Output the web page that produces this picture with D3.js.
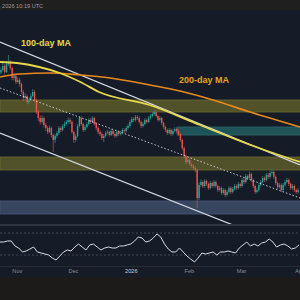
<!DOCTYPE html>
<html>
<head>
<meta charset="utf-8">
<script src="https://cdn.jsdelivr.net/npm/d3@7"></script>
<style>
  html, body { margin: 0; padding: 0; background: #161c27; overflow: hidden; }
</style>
</head>
<body>
<div id="chart"></div>
<script>

// daily candles from 23 Oct 2025, prices in thousands
var first_day = Date.UTC(2025, 9, 23)
var last_day = Date.UTC(2026, 3, 1, 12)
var first_open = 113.0

var closes = [
  114.0, 115.6, 113.2, 116.4, 117.2, 114.8, 110.8, 111.6, 109.2, 110.0,
  108.4, 105.2, 102.8, 103.6, 101.2, 102.0, 103.6, 105.2, 102.0, 97.2,
  94.8, 93.2, 94.8, 92.0, 90.8, 89.2, 90.8, 88.0, 86.0, 87.6,
  88.8, 90.8, 90.0, 91.6, 92.4, 93.2, 94.0, 93.2, 89.2, 86.0,
  87.6, 91.6, 94.8, 92.4, 90.0, 91.2, 92.4, 94.0, 93.2, 94.8,
  92.4, 90.8, 89.2, 88.4, 86.8, 87.6, 88.8, 89.2, 88.0, 89.6,
  88.4, 87.6, 89.2, 88.4, 88.8, 90.0, 89.6, 90.8, 91.6, 93.2,
  94.4, 94.0, 95.2, 94.8, 93.2, 91.6, 92.4, 94.0, 93.2, 94.8,
  95.6, 96.4, 97.2, 95.6, 94.0, 94.8, 92.8, 91.2, 90.0, 88.8,
  90.0, 88.4, 89.6, 90.4, 89.6, 88.4, 86.0, 82.8, 79.6, 77.2,
  78.0, 76.4, 75.6, 74.8, 74.0, 62.8, 68.0, 69.2, 67.6, 69.6,
  68.4, 66.8, 68.8, 67.6, 69.2, 67.6, 66.0, 66.8, 64.8, 66.0,
  64.0, 65.2, 66.8, 65.2, 66.4, 67.6, 66.8, 68.4, 67.6, 70.0,
  69.2, 71.6, 70.8, 72.4, 70.0, 67.6, 65.2, 66.0, 68.0, 69.2,
  70.8, 70.0, 72.0, 71.2, 72.8, 73.2, 71.2, 68.8, 67.2, 68.0,
  66.0, 68.0, 69.2, 70.0, 68.4, 66.8, 67.6, 66.0, 65.2, 66.0
]

var highs = [
  115.0, 116.8, 116.4, 117.6, 120.0, 118.0, 115.4, 112.8, 112.2, 111.2,
  110.8, 109.0, 106.0, 104.8, 104.2, 103.0, 104.6, 106.4, 106.0, 102.6,
  98.0, 95.8, 96.0, 95.4, 92.8, 91.6, 91.8, 91.4, 88.6, 88.4,
  89.6, 91.6, 91.4, 92.4, 93.4, 94.0, 95.0, 94.8, 93.8, 89.8,
  88.4, 92.4, 95.6, 95.4, 93.0, 92.0, 93.2, 94.8, 94.8, 95.6,
  95.2, 93.0, 91.4, 90.0, 89.0, 88.4, 89.6, 90.0, 89.8, 90.4,
  90.2, 89.0, 90.0, 89.8, 89.6, 90.8, 90.6, 91.6, 92.4, 94.0,
  95.2, 95.0, 96.0, 96.0, 95.4, 93.8, 93.2, 94.8, 94.6, 95.6,
  96.4, 97.2, 98.0, 97.8, 96.2, 95.6, 95.2, 93.4, 91.8, 90.6,
  90.8, 90.6, 90.4, 91.2, 91.0, 90.2, 89.0, 86.6, 83.4, 80.2,
  79.0, 78.6, 77.0, 76.2, 75.6, 74.4, 69.0, 70.2, 69.8, 70.4,
  70.2, 69.0, 69.6, 69.4, 70.0, 69.8, 68.2, 67.6, 67.4, 66.8,
  66.6, 66.0, 67.6, 67.4, 67.2, 68.4, 68.2, 69.2, 69.0, 70.8,
  70.8, 72.4, 72.2, 73.4, 73.0, 70.6, 68.2, 66.8, 68.8, 70.0,
  71.6, 71.4, 72.8, 72.8, 73.6, 74.2, 73.8, 71.8, 69.4, 68.8,
  68.6, 68.8, 70.0, 70.8, 70.6, 69.0, 68.4, 68.2, 66.6, 66.8
]

var lows = [
  112.2, 113.4, 112.4, 112.8, 115.6, 114.0, 110.0, 109.8, 108.4, 108.6,
  107.4, 104.4, 101.6, 102.0, 100.2, 100.4, 101.4, 103.0, 101.2, 96.4,
  93.6, 92.2, 92.6, 91.0, 89.6, 88.4, 88.6, 87.0, 81.2, 84.8,
  86.8, 88.0, 89.2, 89.4, 90.8, 91.8, 92.6, 92.4, 88.4, 84.8,
  85.2, 87.0, 91.0, 91.8, 89.2, 89.4, 90.6, 91.8, 92.4, 92.8,
  91.8, 90.0, 88.4, 87.6, 86.0, 85.2, 87.0, 88.2, 87.4, 87.6,
  87.8, 86.8, 87.0, 87.6, 87.8, 88.2, 88.8, 89.0, 90.2, 91.0,
  92.6, 93.2, 93.4, 94.0, 92.6, 90.8, 91.0, 91.8, 92.6, 92.8,
  94.2, 95.0, 95.8, 95.0, 93.4, 93.4, 92.0, 90.4, 89.2, 88.0,
  88.2, 87.6, 87.8, 89.0, 88.8, 87.6, 85.2, 82.0, 78.8, 76.2,
  76.6, 75.6, 74.8, 74.0, 73.0, 58.8, 62.0, 67.2, 66.8, 67.0,
  67.6, 66.0, 66.2, 66.8, 67.0, 66.8, 65.2, 65.4, 64.0, 64.2,
  63.2, 63.4, 64.6, 64.4, 64.6, 65.8, 66.0, 66.2, 66.8, 67.0,
  68.4, 68.6, 70.0, 70.2, 69.2, 66.8, 64.4, 64.6, 65.4, 67.4,
  68.6, 69.2, 69.4, 70.4, 70.6, 72.2, 70.4, 68.0, 66.4, 66.6,
  65.2, 65.4, 67.4, 68.6, 67.6, 66.0, 66.2, 65.2, 64.4, 64.6
]

// moving averages, read at a few days
var ma100_days = [0, 9, 21, 32, 43, 53, 80, 107, 134, 160.5]
var ma100 = [117.2, 116.8, 115.2, 112.8, 109.2, 105.2, 100.0, 92.0, 84.0, 77.2]
var ma200_days = [0, 10.7, 26.8, 42.8, 58.9, 80.3, 96.3, 114, 133.8, 160.5]
var ma200 = [111.2, 112.4, 112.8, 112.0, 110.8, 108.0, 105.6, 102.0, 97.2, 91.2]

// trend lines: [day, price] end points
var trend_upper = [[0, 125.2], [160.5, 76.0]]
var trend_middle = [[0, 106.8], [160.5, 62.8]]
var trend_lower = [[0, 88.8], [160.5, 41.4]]

// zones: price range and first day
var zone_names = ['supply', 'resist', 'mid', 'demand']
var zone_lo = [97.2, 88.0, 74.0, 56.4]
var zone_hi = [102.0, 91.2, 79.2, 61.6]
var zone_from = [0, 94.7, 0, 0]

// rsi, one reading every two days
var rsi_step = 2
var rsi = [
  53.6, 53.6, 55.5, 55.5, 46.4, 42.7, 35.5, 37.3, 40.9, 44.5,
  35.5, 33.6, 31.8, 30.0, 24.5, 20.9, 28.2, 35.5, 39.1, 37.3,
  44.5, 50.0, 44.5, 39.1, 48.2, 50.0, 44.5, 39.1, 42.7, 44.5,
  42.7, 42.7, 46.4, 46.4, 48.2, 50.0, 55.5, 62.7, 60.9, 53.6,
  55.5, 60.9, 68.2, 62.7, 50.0, 40.9, 35.5, 35.5, 42.7, 35.5,
  28.2, 22.7, 17.3, 24.5, 33.6, 31.8, 33.6, 35.5, 30.0, 35.5,
  35.5, 37.3, 35.5, 33.6, 42.7, 48.2, 53.6, 46.4, 50.0, 46.4,
  51.8, 53.6, 59.1, 53.6, 44.5, 48.2, 50.0, 46.4, 40.9, 42.7,
  48.2
]
var rsi_levels = [70, 30]

var zone_style = {
  supply: { fill: '#51512a', stroke: '#6a6934' },
  resist: { fill: '#1e5457', stroke: '#28686a' },
  mid: { fill: '#51512a', stroke: '#6a6934' },
  demand: { fill: '#37455f', stroke: '#45557a' }
}

var W = 300, H = 300

var svg = d3.select('#chart').append('svg')
  .attr('width', W)
  .attr('height', H)
  .style('display', 'block')
  .style('font-family', '"Liberation Sans", Arial, sans-serif')

var day_ms = 86400000
function day_date(d) { return new Date(first_day + d * day_ms) }

var x = d3.scaleUtc().domain([new Date(first_day), new Date(last_day)]).range([0, W])
var y = d3.scaleLinear().domain([60, 116]).range([205, 65])
var y_rsi = d3.scaleLinear().domain([30, 70]).range([255, 233])

// backgrounds
svg.append('rect').attr('width', W).attr('height', H).attr('fill', '#161c27')
svg.append('rect').attr('width', W).attr('height', 10).attr('fill', '#1f1f20')
svg.append('rect').attr('y', 277).attr('width', W).attr('height', 23).attr('fill', '#1d1b19')

svg.append('text')
  .attr('x', -1)
  .attr('y', 7.5)
  .attr('fill', '#9c9c9c')
  .style('font-size', '5.6px')
  .text(', 2026 10:19 UTC')

var defs = svg.append('defs')
defs.append('clipPath').attr('id', 'main_clip')
  .append('rect').attr('x', 0).attr('y', 10).attr('width', W).attr('height', 214)
defs.append('clipPath').attr('id', 'rsi_clip')
  .append('rect').attr('x', 0).attr('y', 226).attr('width', W).attr('height', 40)

var main = svg.append('g').attr('clip-path', 'url(#main_clip)')

// zones
zone_names.forEach(function(name, i) {
  main.append('rect')
    .attr('x', x(day_date(zone_from[i])))
    .attr('y', y(zone_hi[i]))
    .attr('width', W - x(day_date(zone_from[i])) + 2)
    .attr('height', y(zone_lo[i]) - y(zone_hi[i]))
    .attr('fill', zone_style[name].fill)
    .attr('stroke', zone_style[name].stroke)
    .attr('stroke-width', 0.8)
})

// candles
var band = x(day_date(1)) - x(day_date(0))
var candles = closes.map(function(c, i) {
  return { i: i, o: i === 0 ? first_open : closes[i - 1], c: c, h: highs[i], l: lows[i] }
})

var g_candle = main.selectAll('g.candle').data(candles).enter().append('g')
  .attr('class', 'candle')
  .attr('transform', function(d) { return 'translate(' + x(day_date(d.i + 0.5)) + ',0)' })

g_candle.append('line')
  .attr('y1', function(d) { return y(d.h) })
  .attr('y2', function(d) { return y(d.l) })
  .attr('stroke', function(d) { return d.c >= d.o ? '#26a69a' : '#ef5350' })
  .attr('stroke-width', 0.6)

g_candle.append('rect')
  .attr('x', -band * 0.36)
  .attr('width', band * 0.72)
  .attr('y', function(d) { return y(Math.max(d.o, d.c)) })
  .attr('height', function(d) { return Math.max(0.8, Math.abs(y(d.o) - y(d.c))) })
  .attr('fill', function(d) { return d.c >= d.o ? '#26a69a' : '#ef5350' })

// trend lines
function trend(points, dash) {
  main.append('line')
    .attr('x1', x(day_date(points[0][0])))
    .attr('y1', y(points[0][1]))
    .attr('x2', x(day_date(points[1][0])))
    .attr('y2', y(points[1][1]))
    .attr('stroke', '#d4d8e0')
    .attr('stroke-width', dash ? 0.9 : 1.2)
    .attr('stroke-dasharray', dash || null)
}
trend(trend_upper)
trend(trend_middle, '1.5,2')
trend(trend_lower)

// moving averages
var ma_line = d3.line()
  .x(function(d) { return x(day_date(d[0])) })
  .y(function(d) { return y(d[1]) })
  .curve(d3.curveMonotoneX)

main.append('path')
  .datum(d3.zip(ma200_days, ma200))
  .attr('d', ma_line)
  .attr('fill', 'none')
  .attr('stroke', '#e8891f')
  .attr('stroke-width', 1.6)

main.append('path')
  .datum(d3.zip(ma100_days, ma100))
  .attr('d', ma_line)
  .attr('fill', 'none')
  .attr('stroke', '#e6d84a')
  .attr('stroke-width', 1.8)

main.append('text')
  .attr('x', 21)
  .attr('y', 46)
  .attr('fill', '#e6d84a')
  .style('font-size', '9px')
  .style('font-weight', 'bold')
  .text('100-day MA')

main.append('text')
  .attr('x', 179)
  .attr('y', 83)
  .attr('fill', '#e8a023')
  .style('font-size', '9px')
  .style('font-weight', 'bold')
  .text('200-day MA')

// panel separators
svg.append('rect').attr('y', 224).attr('width', W).attr('height', 2).attr('fill', '#2f3441')
svg.append('line')
  .attr('x1', 0).attr('x2', W).attr('y1', 266.5).attr('y2', 266.5)
  .attr('stroke', '#262b36').attr('stroke-width', 1)

// rsi
var g_rsi = svg.append('g').attr('clip-path', 'url(#rsi_clip)')

rsi_levels.forEach(function(level) {
  g_rsi.append('line')
    .attr('x1', 0).attr('x2', W)
    .attr('y1', y_rsi(level)).attr('y2', y_rsi(level))
    .attr('stroke', '#4a5162')
    .attr('stroke-width', 0.8)
    .attr('stroke-dasharray', '2,2')
})

g_rsi.append('path')
  .datum(rsi)
  .attr('d', d3.line()
    .x(function(d, i) { return x(day_date(i * rsi_step)) })
    .y(function(d) { return y_rsi(d) }))
  .attr('fill', 'none')
  .attr('stroke', '#d6dae2')
  .attr('stroke-width', 1)

// time axis
var axis = d3.axisBottom(x)
  .ticks(d3.utcMonth.every(1))
  .tickSize(0)
  .tickFormat(function(d) {
    return d.getUTCMonth() === 0 ? d3.utcFormat('%Y')(d) : d3.utcFormat('%b')(d)
  })

var g_axis = svg.append('g').attr('transform', 'translate(0,268)').call(axis)
g_axis.select('.domain').remove()
g_axis.selectAll('text')
  .attr('dy', '0.75em')
  .attr('y', 1)
  .style('font-family', '"Liberation Sans", Arial, sans-serif')
  .style('font-size', '5.6px')
  .attr('fill', function(d) { return d.getUTCMonth() === 0 ? '#c9ccd3' : '#848a96' })

</script>
</body>
</html>
